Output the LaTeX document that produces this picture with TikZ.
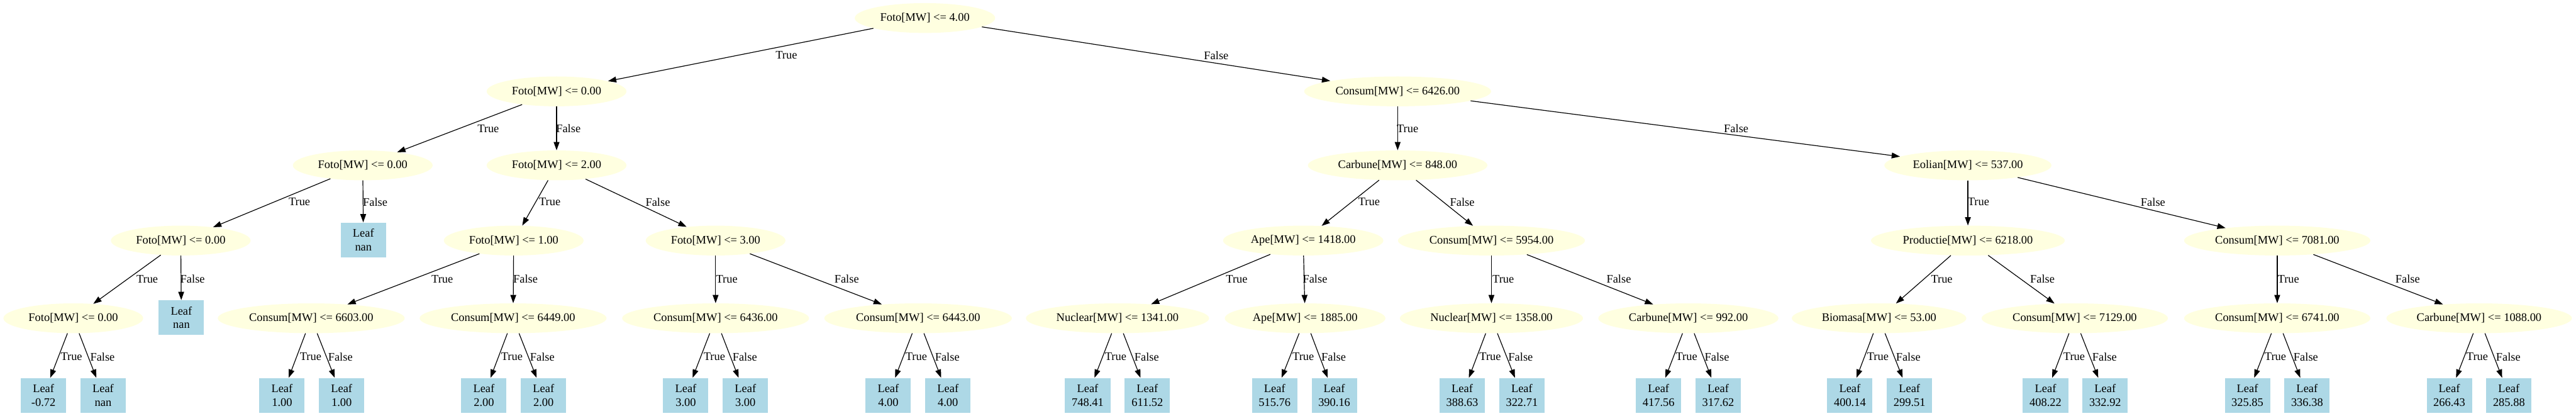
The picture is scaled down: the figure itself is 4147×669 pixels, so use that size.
\documentclass[tikz,border=0pt]{standalone}
\usepackage{fontspec}
\setmainfont{Liberation Serif}
\usetikzlibrary{shapes.geometric,arrows.meta}
\definecolor{lyellow}{HTML}{FFFFE0}
\definecolor{lblue}{HTML}{ADD8E6}
\tikzset{
  dec/.style={ellipse, fill=lyellow, inner sep=0pt, minimum height=36pt, minimum width=#1, font=\fontsize{14}{16.5}\selectfont},
  leafbox/.style={rectangle, fill=lblue, inner sep=0pt, minimum width=54.75pt, minimum height=42pt, align=center, font=\fontsize{14}{16.5}\selectfont},
  edge/.style={draw=black, line width=0.9pt, -{Triangle[length=10pt,width=7pt]}},
  lbl/.style={inner sep=0pt, font=\fontsize{14}{16.5}\selectfont}
}
\begin{document}
\begin{tikzpicture}[x=0.75pt,y=-0.75pt]
\useasboundingbox (0,0) rectangle (4147,669);
% level 0
\node[dec=169.5pt] (r) at (1489,29) {Foto[MW] <= 4.00};
% level 1
\node[dec=168.75pt] (a) at (896,147) {Foto[MW] <= 0.00};
\node[dec=225.75pt] (b) at (2250,147) {Consum[MW] <= 6426.00};
% level 2
\node[dec=168.75pt] (aa) at (584,266) {Foto[MW] <= 0.00};
\node[dec=168.75pt] (ab) at (896,266) {Foto[MW] <= 2.00};
\node[dec=216.75pt] (ba) at (2250,266) {Carbune[MW] <= 848.00};
\node[dec=201.75pt] (bb) at (3168,266) {Eolian[MW] <= 537.00};
% level 3
\node[dec=168.75pt] (aaa) at (291,387) {Foto[MW] <= 0.00};
\node[leafbox] (aab) at (585,386) {Leaf\\nan};
\node[dec=168.75pt] (aba) at (827,387) {Foto[MW] <= 1.00};
\node[dec=168.75pt] (abb) at (1152,387) {Foto[MW] <= 3.00};
\node[dec=193.5pt] (baa) at (2098,387) {Ape[MW] <= 1418.00};
\node[dec=225.75pt] (bab) at (2401,387) {Consum[MW] <= 5954.00};
\node[dec=234pt] (bba) at (3168,387) {Productie[MW] <= 6218.00};
\node[dec=225pt] (bbb) at (3666,387) {Consum[MW] <= 7081.00};
% level 4
\node[dec=168.75pt] (aaaa) at (118,512) {Foto[MW] <= 0.00};
\node[leafbox] (aaab) at (292,511) {Leaf\\nan};
\node[dec=225.75pt] (abaa) at (501,512) {Consum[MW] <= 6603.00};
\node[dec=225.75pt] (abab) at (826,512) {Consum[MW] <= 6449.00};
\node[dec=225.75pt] (abba) at (1152,512) {Consum[MW] <= 6436.00};
\node[dec=226.5pt] (abbb) at (1478,512) {Consum[MW] <= 6443.00};
\node[dec=221.25pt] (baaa) at (1799,512) {Nuclear[MW] <= 1341.00};
\node[dec=194pt] (baab) at (2101,512) {Ape[MW] <= 1885.00};
\node[dec=221.25pt] (baba) at (2401,512) {Nuclear[MW] <= 1358.00};
\node[dec=217.5pt] (babb) at (2718,512) {Carbune[MW] <= 992.00};
\node[dec=210.75pt] (bbaa) at (3025,512) {Biomasa[MW] <= 53.00};
\node[dec=225pt] (bbab) at (3340,512) {Consum[MW] <= 7129.00};
\node[dec=225pt] (bbba) at (3666,512) {Consum[MW] <= 6741.00};
\node[dec=224pt] (bbbb) at (3991,512) {Carbune[MW] <= 1088.00};
% leaves level 5
\node[leafbox] (l1) at (70,636) {Leaf\\-0.72};
\node[leafbox] (l2) at (166,636) {Leaf\\nan};
\node[leafbox] (l3) at (454,636) {Leaf\\1.00};
\node[leafbox] (l4) at (550,636) {Leaf\\1.00};
\node[leafbox] (l5) at (779,636) {Leaf\\2.00};
\node[leafbox] (l6) at (875,636) {Leaf\\2.00};
\node[leafbox] (l7) at (1104,636) {Leaf\\3.00};
\node[leafbox] (l8) at (1200,636) {Leaf\\3.00};
\node[leafbox] (l9) at (1430,636) {Leaf\\4.00};
\node[leafbox] (l10) at (1526,636) {Leaf\\4.00};
\node[leafbox] (l11) at (1751,636) {Leaf\\748.41};
\node[leafbox] (l12) at (1847,636) {Leaf\\611.52};
\node[leafbox] (l13) at (2052,636) {Leaf\\515.76};
\node[leafbox] (l14) at (2148,636) {Leaf\\390.16};
\node[leafbox] (l15) at (2354,636) {Leaf\\388.63};
\node[leafbox] (l16) at (2450,636) {Leaf\\322.71};
\node[leafbox] (l17) at (2670,636) {Leaf\\417.56};
\node[leafbox] (l18) at (2766,636) {Leaf\\317.62};
\node[leafbox] (l19) at (2978,636) {Leaf\\400.14};
\node[leafbox] (l20) at (3074,636) {Leaf\\299.51};
\node[leafbox] (l21) at (3293,636) {Leaf\\408.22};
\node[leafbox] (l22) at (3389,636) {Leaf\\332.92};
\node[leafbox] (l23) at (3618,636) {Leaf\\325.85};
\node[leafbox] (l24) at (3714,636) {Leaf\\336.38};
\node[leafbox] (l25) at (3943,636) {Leaf\\266.43};
\node[leafbox] (l26) at (4039,636) {Leaf\\285.88};
% edges
\draw[edge] (r) -- (a);   \node[lbl] at (1266,89) {True};
\draw[edge] (r) -- (b);   \node[lbl] at (1958,89) {False};
\draw[edge] (a) -- (aa);  \node[lbl] at (786,207) {True};
\draw[edge] (a) -- (ab);  \node[lbl] at (915,207) {False};
\draw[edge] (b) -- (ba);  \node[lbl] at (2266,207) {True};
\draw[edge] (b) -- (bb);  \node[lbl] at (2795,207) {False};
\draw[edge] (aa) -- (aaa); \node[lbl] at (482,325) {True};
\draw[edge] (aa) -- (aab); \node[lbl] at (604,325) {False};
\draw[edge] (ab) -- (aba); \node[lbl] at (885,325) {True};
\draw[edge] (ab) -- (abb); \node[lbl] at (1059,325) {False};
\draw[edge] (ba) -- (baa); \node[lbl] at (2204,325) {True};
\draw[edge] (ba) -- (bab); \node[lbl] at (2354,325) {False};
\draw[edge] (bb) -- (bba); \node[lbl] at (3185,325) {True};
\draw[edge] (bb) -- (bbb); \node[lbl] at (3466,325) {False};
\draw[edge] (aaa) -- (aaaa); \node[lbl] at (237,449) {True};
\draw[edge] (aaa) -- (aaab); \node[lbl] at (310,449) {False};
\draw[edge] (aba) -- (abaa); \node[lbl] at (712,449) {True};
\draw[edge] (aba) -- (abab); \node[lbl] at (846,449) {False};
\draw[edge] (abb) -- (abba); \node[lbl] at (1170,449) {True};
\draw[edge] (abb) -- (abbb); \node[lbl] at (1363,449) {False};
\draw[edge] (baa) -- (baaa); \node[lbl] at (1991,449) {True};
\draw[edge] (baa) -- (baab); \node[lbl] at (2117,449) {False};
\draw[edge] (bab) -- (baba); \node[lbl] at (2420,449) {True};
\draw[edge] (bab) -- (babb); \node[lbl] at (2606,449) {False};
\draw[edge] (bba) -- (bbaa); \node[lbl] at (3126,449) {True};
\draw[edge] (bba) -- (bbab); \node[lbl] at (3288,449) {False};
\draw[edge] (bbb) -- (bbba); \node[lbl] at (3684,449) {True};
\draw[edge] (bbb) -- (bbbb); \node[lbl] at (3876,449) {False};
\draw[edge] (aaaa) -- (l1); \node[lbl] at (115,574) {True};
\draw[edge] (aaaa) -- (l2); \node[lbl] at (165,574) {False};
\draw[edge] (abaa) -- (l3); \node[lbl] at (500,574) {True};
\draw[edge] (abaa) -- (l4); \node[lbl] at (548,574) {False};
\draw[edge] (abab) -- (l5); \node[lbl] at (824,574) {True};
\draw[edge] (abab) -- (l6); \node[lbl] at (873,574) {False};
\draw[edge] (abba) -- (l7); \node[lbl] at (1150,574) {True};
\draw[edge] (abba) -- (l8); \node[lbl] at (1199,574) {False};
\draw[edge] (abbb) -- (l9); \node[lbl] at (1475,574) {True};
\draw[edge] (abbb) -- (l10); \node[lbl] at (1525,574) {False};
\draw[edge] (baaa) -- (l11); \node[lbl] at (1796,574) {True};
\draw[edge] (baaa) -- (l12); \node[lbl] at (1846,574) {False};
\draw[edge] (baab) -- (l13); \node[lbl] at (2098,574) {True};
\draw[edge] (baab) -- (l14); \node[lbl] at (2147,574) {False};
\draw[edge] (baba) -- (l15); \node[lbl] at (2399,574) {True};
\draw[edge] (baba) -- (l16); \node[lbl] at (2448,574) {False};
\draw[edge] (babb) -- (l17); \node[lbl] at (2715,574) {True};
\draw[edge] (babb) -- (l18); \node[lbl] at (2764,574) {False};
\draw[edge] (bbaa) -- (l19); \node[lbl] at (3023,574) {True};
\draw[edge] (bbaa) -- (l20); \node[lbl] at (3072,574) {False};
\draw[edge] (bbab) -- (l21); \node[lbl] at (3339,574) {True};
\draw[edge] (bbab) -- (l22); \node[lbl] at (3388,574) {False};
\draw[edge] (bbba) -- (l23); \node[lbl] at (3663,574) {True};
\draw[edge] (bbba) -- (l24); \node[lbl] at (3712,574) {False};
\draw[edge] (bbbb) -- (l25); \node[lbl] at (3988,574) {True};
\draw[edge] (bbbb) -- (l26); \node[lbl] at (4038,574) {False};
\end{tikzpicture}
\end{document}
